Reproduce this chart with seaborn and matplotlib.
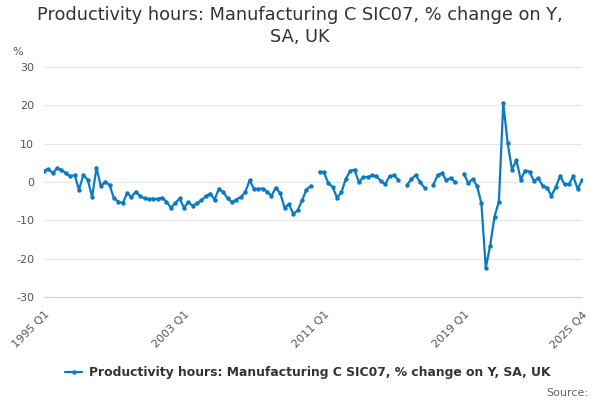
import matplotlib
matplotlib.use("Agg")
import matplotlib.pyplot as plt
import numpy as np
import pandas as pd
import seaborn as sns

# quarterly % change on year, 1995 Q1 .. 2025 Q4 (NaN = missing)
valores = [
    3.0, 3.4, 2.3, 3.6, 3.2, 2.3, 1.5, 1.8, -2.0, 1.8, 0.6, -3.9,
    3.7, -1.1, 0.1, -0.8, -4.3, -5.1, -5.5, -2.9, -3.9, -2.5, -3.7, -4.3,
    -4.4, -4.4, -4.4, -4.1, -5.1, -6.7, -5.5, -4.3, -6.7, -5.3, -6.2, -5.5,
    -4.8, -3.7, -3.0, -4.6, -1.7, -2.7, -4.3, -5.3, -4.6, -3.9, -2.7, 0.4,
    -1.7, -1.8, -1.7, -2.5, -3.6, -1.5, -2.9, -6.7, -5.8, -8.3, -7.4, -4.8,
    -2.0, -1.0, np.nan, 2.7, 2.5, -0.3, -1.3, -4.1, -2.7, 0.8, 2.9, 3.2,
    -0.1, 1.3, 1.3, 1.7, 1.5, 0.3, -0.6, 1.5, 1.7, 0.6, np.nan, -0.8,
    0.8, 1.8, -0.1, -1.5, np.nan, -0.8, 1.8, 2.3, 0.4, 1.1, -0.1, np.nan,
    2.2, -0.3, 0.8, -1.0, -5.6, -22.4, -16.6, -9.0, -5.1, 20.6, 10.2, 3.2,
    5.7, 0.6, 3.0, 2.7, 0.3, 1.0, -1.0, -1.5, -3.6, -1.3, 1.5, -0.6,
    -0.6, 1.5, -1.8, 0.4,
]
trimestres = [f"{y} Q{q}" for y in range(1995, 2026) for q in range(1, 5)]
etiquetas = ["1995 Q1", "2003 Q1", "2011 Q1", "2019 Q1", "2025 Q4"]
serie = "Productivity hours: Manufacturing C SIC07, % change on Y, SA, UK"

df = pd.DataFrame({"t": trimestres, "v": valores})
df["i"] = np.arange(len(df))
df["tramo"] = df["v"].isna().cumsum()
df = df.dropna()

azul = "#0a7bc2"
sns.set_style("white")
plt.rcParams["font.family"] = ["DejaVu Sans"]
plt.rcParams["axes.unicode_minus"] = False

fig = plt.figure(figsize=(6, 4), dpi=100)
ax = fig.add_axes([0.0733, 0.2575, 0.8967, 0.575])

sns.lineplot(data=df, x="i", y="v", units="tramo", estimator=None,
             color=azul, lw=1.6, marker="o", markersize=3.2,
             markeredgewidth=0, ax=ax, legend=False)

ax.set_xlim(0, len(trimestres) - 1)
ax.set_ylim(-30, 30)
ax.set_yticks(range(-30, 31, 10))
ax.grid(axis="y", color="#e6e6e6", lw=0.8)
ax.set_axisbelow(True)
for s in ["top", "right", "left"]:
    ax.spines[s].set_visible(False)
ax.spines["bottom"].set_color("#ccd6eb")
ax.spines["bottom"].set_linewidth(0.9)

pos = list(range(0, 113, 8)) + [len(trimestres) - 1]
ax.set_xticks(pos)
ax.set_xticklabels([trimestres[p] if trimestres[p] in etiquetas else "" for p in pos],
                   rotation=45, ha="right", rotation_mode="anchor",
                   fontsize=8, color="#555555")
ax.tick_params(axis="x", length=7, width=0.9, color="#ccd6eb", pad=2)
ax.tick_params(axis="y", length=0, labelsize=8, labelcolor="#555555", pad=7)
ax.set_xlabel("")
ax.set_ylabel("")

fig.text(0.02, 0.862, "%", fontsize=8, color="#555555")
fig.suptitle("Productivity hours: Manufacturing C SIC07, % change on Y,\nSA, UK",
             x=0.5, y=0.985, fontsize=12.8, color="#333333", linespacing=1.25)

ax.legend(handles=[plt.Line2D([], [], color=azul, lw=1.6, marker="o",
                              markersize=3.2, markeredgewidth=0)],
          labels=[serie], loc="center", bbox_to_anchor=(0.49, -0.33),
          bbox_transform=ax.transAxes, frameon=False, handlelength=1.4,
          handletextpad=0.5, prop={"weight": "bold", "size": 8.9})
for txt in ax.get_legend().get_texts():
    txt.set_color("#333333")

fig.text(0.98, 0.01, "Source:", ha="right", fontsize=8, color="#666666")

fig.savefig("out.png", dpi=100)
